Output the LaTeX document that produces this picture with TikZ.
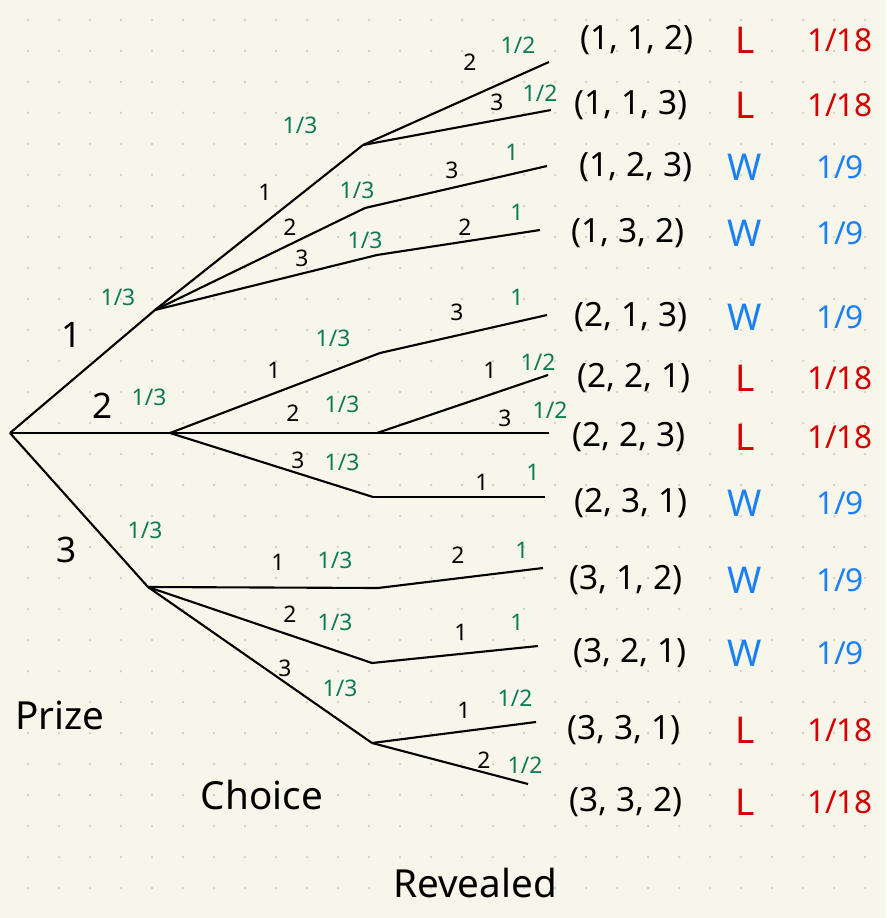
\documentclass[tikz,border=0pt]{standalone}
\usepackage{fontspec}
\setmainfont{Noto Sans}
\usepackage{xcolor}
\usetikzlibrary{positioning, calc}

\definecolor{paper}{HTML}{F8F6EB}
\definecolor{griddot}{HTML}{D6D4CA}
\definecolor{probgreen}{HTML}{0B7A55}
\definecolor{losered}{HTML}{D40000}
\definecolor{winblue}{HTML}{1A80F5}

\begin{document}
\begin{tikzpicture}[
    x=0.02cm, y=-0.02cm,
    branch/.style={line width=1.2pt, line join=round},
    door/.style={font=\fontsize{20}{22}\selectfont},
    rdoor/.style={font=\fontsize{13}{15}\selectfont},
    prob/.style={text=probgreen, font=\fontsize{13}{15}\selectfont},
    outcome/.style={font=\fontsize{19}{22}\selectfont},
    lose/.style={text=losered, font=\fontsize{21}{24}\selectfont},
    win/.style={text=winblue, font=\fontsize{21}{24}\selectfont},
    freq/.style={font=\fontsize{18}{21}\selectfont},
    level/.style={font=\fontsize{22}{25}\selectfont}
]

% paper
\useasboundingbox (0,0) rectangle (886,918);
\fill[paper] (0,0) rectangle (886,918);
\foreach \i in {0,...,27}
  \foreach \j in {0,...,28}
    \fill[griddot] (28+31*\i, 20+31*\j) circle (1.5);

% tree points
\coordinate (root) at (10,433);
\coordinate (p1) at (155,310);
\coordinate (p2) at (170,433);
\coordinate (p3) at (148,587);
\coordinate (c11) at (363,145);
\coordinate (c12) at (365,208);
\coordinate (c13) at (377,255);
\coordinate (c21) at (380,353);
\coordinate (c22) at (377,433);
\coordinate (c23) at (373,497);
\coordinate (c31) at (378,588);
\coordinate (c32) at (372,663);
\coordinate (c33) at (372,743);
\coordinate (r112) at (549,62);
\coordinate (r113) at (551,110);
\coordinate (r123) at (547,166);
\coordinate (r132) at (540,230);
\coordinate (r213) at (547,315);
\coordinate (r221) at (548,375);
\coordinate (r223) at (549,433);
\coordinate (r231) at (545,497);
\coordinate (r312) at (543,568);
\coordinate (r321) at (538,646);
\coordinate (r331) at (536,722);
\coordinate (r332) at (528,784);

% prize
\draw[branch] (root) -- (p1);
\draw[branch] (root) -- (p2);
\draw[branch] (root) -- (p3);
% choice
\draw[branch] (p1) -- (c11);
\draw[branch] (p1) -- (c12);
\draw[branch] (p1) -- (c13);
\draw[branch] (p2) -- (c21);
\draw[branch] (p2) -- (c22);
\draw[branch] (p2) -- (c23);
\draw[branch] (p3) -- (c31);
\draw[branch] (p3) -- (c32);
\draw[branch] (p3) -- (c33);
% revealed
\draw[branch] (c11) -- (r112);
\draw[branch] (c11) -- (r113);
\draw[branch] (c12) -- (r123);
\draw[branch] (c13) -- (r132);
\draw[branch] (c21) -- (r213);
\draw[branch] (c22) -- (r221);
\draw[branch] (c22) -- (r223);
\draw[branch] (c23) -- (r231);
\draw[branch] (c31) -- (r312);
\draw[branch] (c32) -- (r321);
\draw[branch] (c33) -- (r331);
\draw[branch] (c33) -- (r332);

% branch labels
\node[door] (d1) at (72,335) {1};
\node[prob] (q1) at (118,297) {1/3};
\node[door] (d2) at (103,406) {2};
\node[prob] (q2) at (149,397) {1/3};
\node[door] (d3) at (67,550) {3};
\node[prob] (q3) at (145,530) {1/3};

\node[rdoor] (d11) at (265,192) {1};
\node[prob] (q11) at (300,125) {1/3};
\node[rdoor] (d12) at (290,227) {2};
\node[prob] (q12) at (357,190) {1/3};
\node[rdoor] (d13) at (302,258) {3};
\node[prob] (q13) at (365,240) {1/3};
\node[rdoor] (d21) at (274,370) {1};
\node[prob] (q21) at (333,338) {1/3};
\node[rdoor] (d22) at (293,413) {2};
\node[prob] (q22) at (342,404) {1/3};
\node[rdoor] (d23) at (298,460) {3};
\node[prob] (q23) at (342,462) {1/3};
\node[rdoor] (d31) at (278,562) {1};
\node[prob] (q31) at (335,560) {1/3};
\node[rdoor] (d32) at (290,614) {2};
\node[prob] (q32) at (335,622) {1/3};
\node[rdoor] (d33) at (285,668) {3};
\node[prob] (q33) at (340,688) {1/3};

\node[rdoor] (d112) at (470,62) {2};
\node[prob] (q112) at (518,45) {1/2};
\node[rdoor] (d113) at (497,102) {3};
\node[prob] (q113) at (540,93) {1/2};
\node[rdoor] (d123) at (452,170) {3};
\node[prob] (q123) at (512,152) {1};
\node[rdoor] (d132) at (465,227) {2};
\node[prob] (q132) at (517,212) {1};
\node[rdoor] (d213) at (457,312) {3};
\node[prob] (q213) at (517,297) {1};
\node[rdoor] (d221) at (490,370) {1};
\node[prob] (q221) at (538,362) {1/2};
\node[rdoor] (d223) at (505,418) {3};
\node[prob] (q223) at (550,410) {1/2};
\node[rdoor] (d231) at (482,482) {1};
\node[prob] (q231) at (533,472) {1};
\node[rdoor] (d312) at (458,555) {2};
\node[prob] (q312) at (522,550) {1};
\node[rdoor] (d321) at (461,632) {1};
\node[prob] (q321) at (517,622) {1};
\node[rdoor] (d331) at (464,710) {1};
\node[prob] (q331) at (515,698) {1/2};
\node[rdoor] (d332) at (484,760) {2};
\node[prob] (q332) at (525,765) {1/2};

% outcomes
\node[outcome] (o112) at (637,40) {(1, 1, 2)};
\node[lose] (w112) at (745,40) {L};
\node[lose, freq] (f112) at (840,40) {1/18};
\node[outcome] (o113) at (631,105) {(1, 1, 3)};
\node[lose] (w113) at (745,105) {L};
\node[lose, freq] (f113) at (840,105) {1/18};
\node[outcome] (o123) at (636,167) {(1, 2, 3)};
\node[win] (w123) at (745,167) {W};
\node[win, freq] (f123) at (840,167) {1/9};
\node[outcome] (o132) at (628,233) {(1, 3, 2)};
\node[win] (w132) at (745,233) {W};
\node[win, freq] (f132) at (840,233) {1/9};
\node[outcome] (o213) at (631,317) {(2, 1, 3)};
\node[win] (w213) at (745,317) {W};
\node[win, freq] (f213) at (840,317) {1/9};
\node[outcome] (o221) at (634,378) {(2, 2, 1)};
\node[lose] (w221) at (745,378) {L};
\node[lose, freq] (f221) at (840,378) {1/18};
\node[outcome] (o223) at (629,437) {(2, 2, 3)};
\node[lose] (w223) at (745,437) {L};
\node[lose, freq] (f223) at (840,437) {1/18};
\node[outcome] (o231) at (631,503) {(2, 3, 1)};
\node[win] (w231) at (745,503) {W};
\node[win, freq] (f231) at (840,503) {1/9};
\node[outcome] (o312) at (626,580) {(3, 1, 2)};
\node[win] (w312) at (745,580) {W};
\node[win, freq] (f312) at (840,580) {1/9};
\node[outcome] (o321) at (630,653) {(3, 2, 1)};
\node[win] (w321) at (745,653) {W};
\node[win, freq] (f321) at (840,653) {1/9};
\node[outcome] (o331) at (624,730) {(3, 3, 1)};
\node[lose] (w331) at (745,730) {L};
\node[lose, freq] (f331) at (840,730) {1/18};
\node[outcome] (o332) at (626,802) {(3, 3, 2)};
\node[lose] (w332) at (745,802) {L};
\node[lose, freq] (f332) at (840,802) {1/18};

% levels
\node[level] (prize) at (60,715) {Prize};
\node[level] (choice) at (262,795) {Choice};
\node[level] (revealed) at (475,883) {Revealed};

\end{tikzpicture}
\end{document}
